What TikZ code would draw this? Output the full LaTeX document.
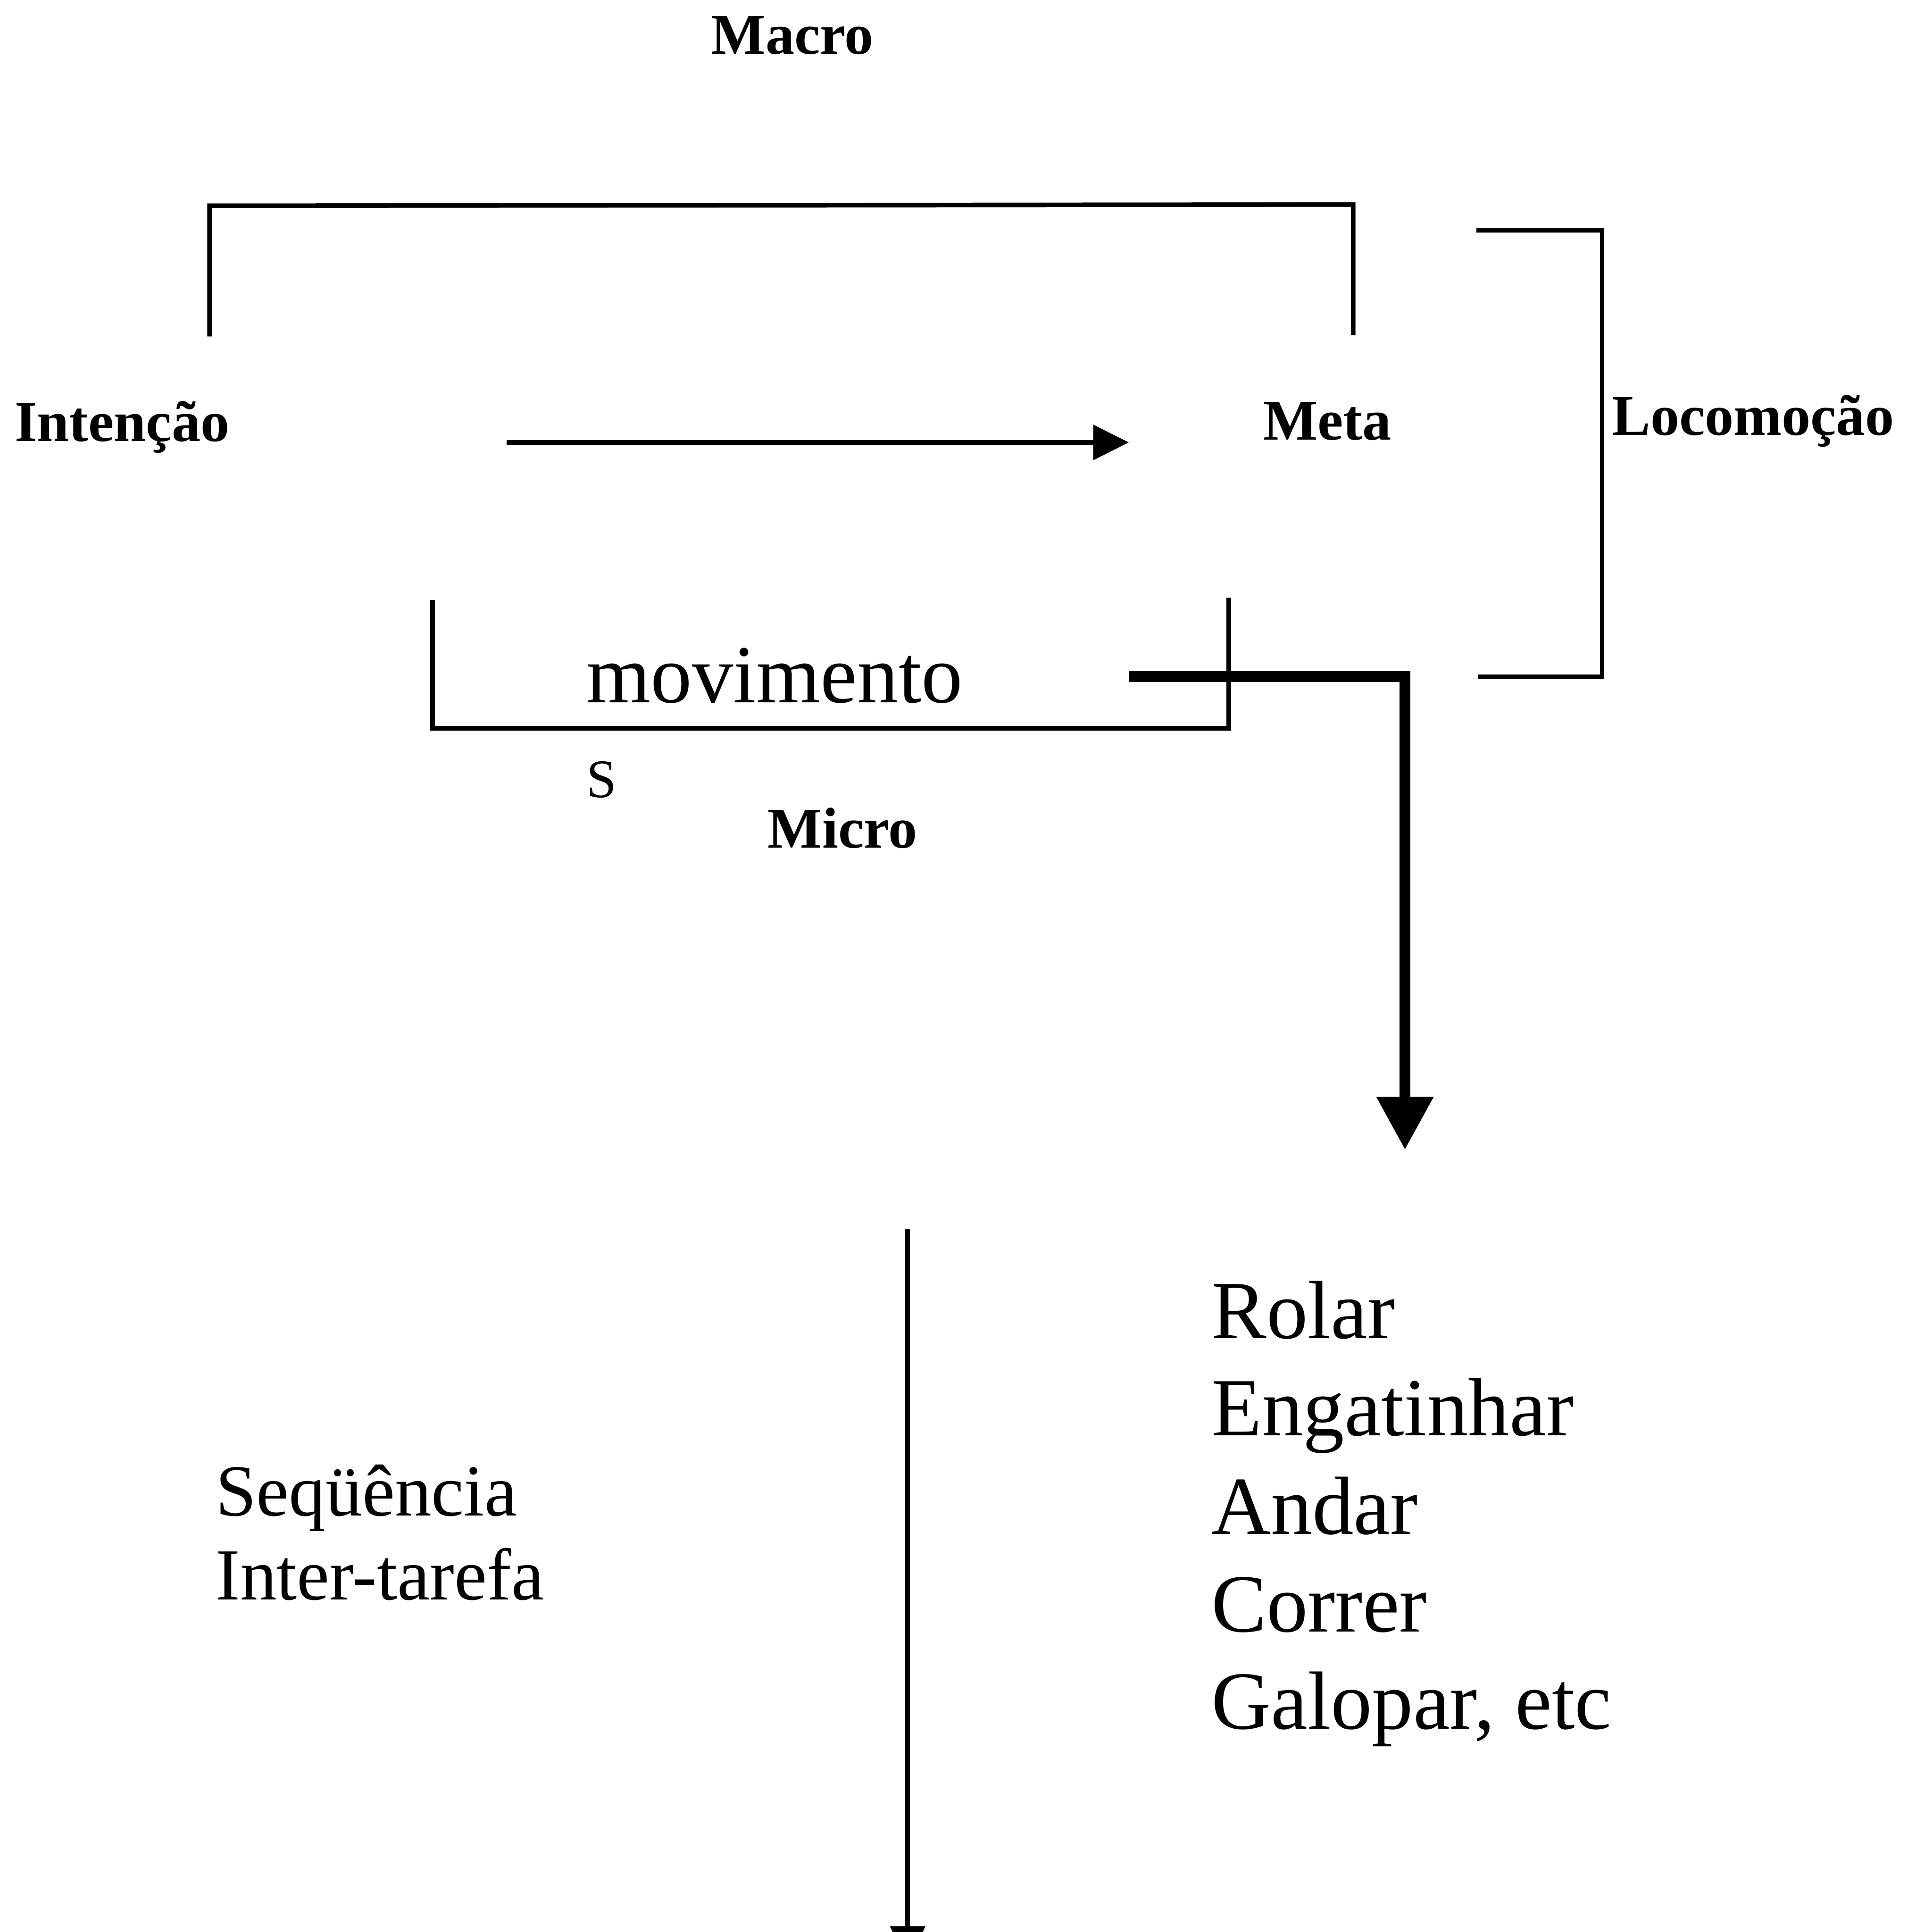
\documentclass[tikz,border=0pt]{standalone}
\usepackage{fontspec}
\setmainfont{Liberation Serif}
\usetikzlibrary{arrows.meta}
\newcommand\labbf{\fontsize{46.8}{50}\selectfont\bfseries}
\newcommand\bigtxt{\fontsize{67}{79}\selectfont}
\newcommand\midtxt{\fontsize{59.5}{70}\selectfont}
\newcommand\smalltxt{\fontsize{44}{50}\selectfont}
\tikzset{
  lbl/.style={inner sep=0pt, outer sep=0pt, anchor=base west},
  thinline/.style={line width=3.7pt, line join=miter},
  thickline/.style={line width=9pt, line join=miter},
  thinarrow/.style={thinline, -{Triangle[length=29pt,width=28pt]}},
  thickarrow/.style={thickline, -{Triangle[length=43pt,width=44pt]}}
}
\begin{document}
\begin{tikzpicture}[x=1pt,y=-1pt]
\useasboundingbox (0,0) rectangle (1548,1567.7);
\clip (0,0) rectangle (1548,1567.7);

% labels
\node[lbl, font=\labbf] (macro) at (577,44) {Macro};
\node[lbl, font=\labbf] (intencao) at (12,358) {Intenção};
\node[lbl, font=\labbf] (meta) at (1025,357) {Meta};
\node[lbl, font=\labbf] (locomocao) at (1308,353) {Locomoção};
\node[lbl, font=\bigtxt] (movimento) at (476,570) {movimento};
\node[lbl, font=\smalltxt] (s) at (476,647) {S};
\node[lbl, font=\labbf] (micro) at (623,688) {Micro};
\node[lbl, font=\midtxt] (seq1) at (175,1230) {Seqüência};
\node[lbl, font=\midtxt] (seq2) at (175,1298) {Inter-tarefa};
\node[lbl, font=\bigtxt] (l1) at (983,1086) {Rolar};
\node[lbl, font=\bigtxt] (l2) at (983,1165) {Engatinhar};
\node[lbl, font=\bigtxt] (l3) at (983,1245) {Andar};
\node[lbl, font=\bigtxt] (l4) at (983,1324) {Correr};
\node[lbl, font=\bigtxt] (l5) at (983,1403) {Galopar, etc};

% coordinates
\coordinate (tb1) at (170,273);
\coordinate (tb2) at (170,167);
\coordinate (tb3) at (1098,166);
\coordinate (tb4) at (1098,272);
\coordinate (rb1) at (1198,187);
\coordinate (rb2) at (1300,187);
\coordinate (rb3) at (1300,549);
\coordinate (rb4) at (1199,549);
\coordinate (mb1) at (351,487);
\coordinate (mb2) at (351,591);
\coordinate (mb3) at (997,591);
\coordinate (mb4) at (997,485);
\coordinate (a1s) at (411,359);
\coordinate (a1e) at (916,359);
\coordinate (a2s) at (916,549);
\coordinate (a2c) at (1140,549);
\coordinate (a2e) at (1140,933);
\coordinate (a3s) at (736.5,997);
\coordinate (a3e) at (736.5,1592);

% brackets
\draw[thinline] (tb1) -- (tb2) -- (tb3) -- (tb4);
\draw[thinline] (rb1) -- (rb2) -- (rb3) -- (rb4);
\draw[thinline] (mb1) -- (mb2) -- (mb3) -- (mb4);

% arrows
\draw[thinarrow] (a1s) -- (a1e);
\draw[thickarrow] (a2s) -- (a2c) -- (a2e);
\draw[thinarrow] (a3s) -- (a3e);
\end{tikzpicture}
\end{document}
